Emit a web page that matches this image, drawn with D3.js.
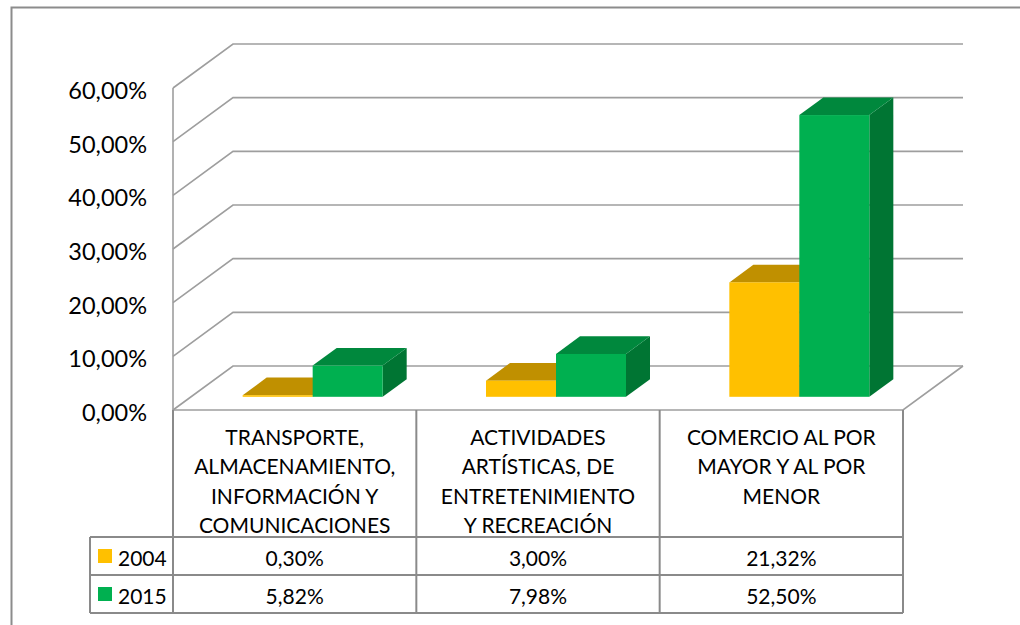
<!DOCTYPE html>
<html>
<head>
<meta charset="utf-8">
<script src="https://cdn.jsdelivr.net/npm/d3@7"></script>
<style>
  html, body { margin: 0; padding: 0; background: #fff; }
  svg { display: block; }
  text { font-family: Lato, "Open Sans", sans-serif; fill: #000; }
</style>
</head>
<body>
<svg id="chart" width="1020" height="625"></svg>
<script>
// ---- data ----
const categories = ["TRANSPORTE", "ACTIVIDADES", "COMERCIO"];
const categoryLabels = [
  ["TRANSPORTE,", "ALMACENAMIENTO,", "INFORMACIÓN Y", "COMUNICACIONES"],
  ["ACTIVIDADES", "ARTÍSTICAS, DE", "ENTRETENIMIENTO", "Y RECREACIÓN"],
  ["COMERCIO AL POR", "MAYOR Y AL POR", "MENOR"]
];
const seriesNames = ["2004", "2015"];
const values2004 = [0.0030, 0.0300, 0.2132];
const values2015 = [0.0582, 0.0798, 0.5250];
const yTicks = [0, 0.1, 0.2, 0.3, 0.4, 0.5, 0.6];

// ---- styles ----
const colors = {
  "2004": { front: "#FFC000", top: "#C09000", side: "#A67C00" },
  "2015": { front: "#00B050", top: "#00883D", side: "#007533" }
};
const gridColor = "#9E9E9E";
const tableColor = "#8A8A8A";

const locale = d3.formatLocale({ decimal: ",", thousands: ".", grouping: [3], currency: ["", "€"] });
const pct = locale.format(".2%");

const svg = d3.select("#chart");

// outer border (top & left visible)
svg.append("rect").attr("x", 11.5).attr("y", 7.5).attr("width", 1100).attr("height", 700)
  .attr("fill", "none").attr("stroke", "#8C8C8C").attr("stroke-width", 2);

// ---- geometry ----
const x0 = 173, x1 = 903;
const DX = 60, DY = 44;          // depth offset of back wall
const y = d3.scaleLinear().domain([0, 0.6]).range([410, 88]);
const xBand = d3.scaleBand().domain(categories).range([x0, x1]).paddingInner(0).paddingOuter(0);
const barW = 70;
const dFront = 0.3, dBack = 0.7;

// ---- gridlines / walls ----
const g = svg.append("g");
yTicks.forEach(t => {
  const yy = y(t);
  g.append("path")
    .attr("d", `M${x0},${yy} L${x0 + DX},${yy - DY} L${x1 + DX},${yy - DY}`)
    .attr("fill", "none").attr("stroke", gridColor).attr("stroke-width", 1.6);
});
// vertical axis line
g.append("line").attr("x1", x0).attr("x2", x0).attr("y1", y(0.6)).attr("y2", y(0))
  .attr("stroke", gridColor).attr("stroke-width", 1.6);
// floor front & right edges
g.append("path")
  .attr("d", `M${x0},${y(0)} L${x1},${y(0)} L${x1 + DX},${y(0) - DY}`)
  .attr("fill", "none").attr("stroke", gridColor).attr("stroke-width", 1.6);

// y axis labels
svg.append("g").selectAll("text").data(yTicks).join("text")
  .attr("x", 147).attr("y", d => y(d) + 2).attr("text-anchor", "end")
  .attr("dominant-baseline", "central").style("font-size", "23.5px")
  .text(d => pct(d));

// ---- bars ----
const seriesValues = { "2004": values2004, "2015": values2015 };
const bars = svg.append("g");
categories.forEach((c, i) => {
  const cx = xBand(c) + xBand.bandwidth() / 2;
  const sub = d3.scaleBand().domain(seriesNames).range([cx - barW, cx + barW]);
  seriesNames.forEach(s => {
    const v = seriesValues[s][i];
    const bx0 = sub(s), bx1 = sub(s) + sub.bandwidth();
    const yt = y(v), yb = y(0);
    const fx = dFront * DX, fy = -dFront * DY;
    const bxo = dBack * DX, byo = -dBack * DY;
    const col = colors[s];
    // side
    bars.append("path")
      .attr("d", `M${bx1 + fx},${yt + fy} L${bx1 + bxo},${yt + byo} L${bx1 + bxo},${yb + byo} L${bx1 + fx},${yb + fy} Z`)
      .attr("fill", col.side);
    // top
    bars.append("path")
      .attr("d", `M${bx0 + fx},${yt + fy} L${bx1 + fx},${yt + fy} L${bx1 + bxo},${yt + byo} L${bx0 + bxo},${yt + byo} Z`)
      .attr("fill", col.top);
    // front
    bars.append("rect")
      .attr("x", bx0 + fx).attr("y", yt + fy)
      .attr("width", bx1 - bx0).attr("height", Math.max(0, yb - yt))
      .attr("fill", col.front);
  });
});

// ---- data table ----
const tbl = svg.append("g");
const rowTop = 537, rowH = 38, legendX = 90;
const lineAttr = sel => sel.attr("stroke", tableColor).attr("stroke-width", 2).attr("fill", "none");
// vertical lines of category columns
[x0, xBand(categories[1]), xBand(categories[2]), x1].forEach(xx => {
  tbl.append("line").attr("x1", xx).attr("x2", xx).attr("y1", y(0)).attr("y2", rowTop + 2 * rowH).call(lineAttr);
});
// horizontal lines
[0, 1, 2].forEach(k => {
  tbl.append("line").attr("x1", legendX).attr("x2", x1)
    .attr("y1", rowTop + k * rowH).attr("y2", rowTop + k * rowH).call(lineAttr);
});
tbl.append("line").attr("x1", legendX).attr("x2", legendX).attr("y1", rowTop).attr("y2", rowTop + 2 * rowH).call(lineAttr);

// header text
categories.forEach((c, i) => {
  const cx = xBand(c) + xBand.bandwidth() / 2;
  tbl.append("g").selectAll("text").data(categoryLabels[i]).join("text")
    .attr("x", cx).attr("y", (d, k) => 436 + k * 29.5)
    .attr("text-anchor", "middle").attr("dominant-baseline", "central")
    .style("font-size", "21px").text(d => d);
});

// rows
seriesNames.forEach((s, r) => {
  const cy = rowTop + r * rowH + rowH / 2;
  tbl.append("rect").attr("x", 98).attr("y", cy - 7).attr("width", 14).attr("height", 14)
    .attr("fill", colors[s].front);
  tbl.append("text").attr("x", 118).attr("y", cy + 1).attr("dominant-baseline", "central")
    .style("font-size", "21px").text(s);
  categories.forEach((c, i) => {
    tbl.append("text").attr("x", xBand(c) + xBand.bandwidth() / 2).attr("y", cy + 1)
      .attr("text-anchor", "middle").attr("dominant-baseline", "central")
      .style("font-size", "21px").text(pct(seriesValues[s][i]));
  });
});
</script>
</body>
</html>
